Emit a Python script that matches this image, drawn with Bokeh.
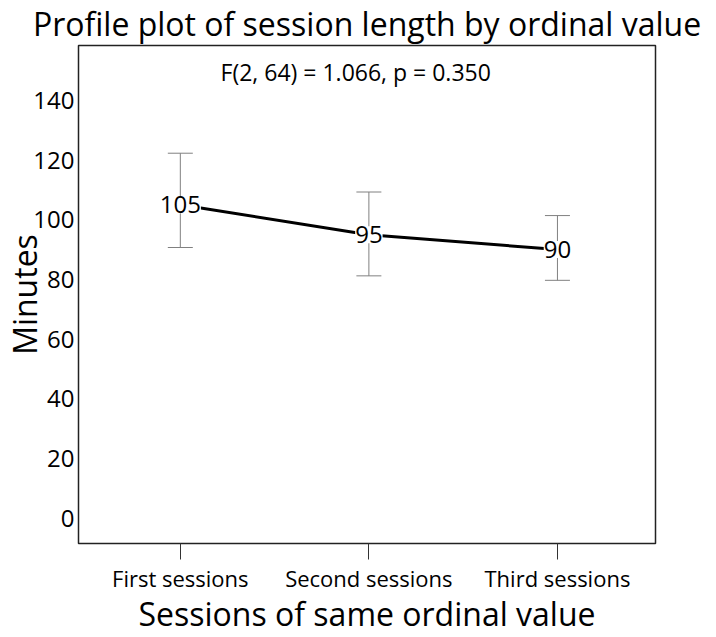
from bokeh.plotting import figure
from bokeh.models import (ColumnDataSource, Whisker, TeeHead, LabelSet, Label,
                          FixedTicker, Range1d)
from bokeh.core.properties import value
from bokeh.embed import file_html
from bokeh.resources import INLINE

# ---- data ----
categories = ["First sessions", "Second sessions", "Third sessions"]
means = [105, 95, 90]
lower = [90.7, 81.2, 79.7]
upper = [122.3, 109.3, 101.4]
mean_labels = ["105", "95", "90"]
y_ticks = [0, 20, 40, 60, 80, 100, 120, 140]
title_text = "Profile plot of session length by ordinal value"
stat_text = "F(2, 64) = 1.066, p = 0.350"
x_title = "Sessions of same ordinal value"
y_title = "Minutes"

FONT = "Open Sans"
x = list(range(len(categories)))
src = ColumnDataSource(dict(x=x, mean=means, lower=lower, upper=upper, label=mean_labels))

p = figure(width=716, height=637, output_backend="svg", toolbar_location=None,
           x_range=Range1d(-0.54, 2.52), y_range=Range1d(-8.5, 158.4),
           min_border_left=78, min_border_top=45, min_border_right=61,
           min_border_bottom=94)

p.title.text = title_text
p.title.text_font = FONT
p.title.text_font_size = "32px"
p.title.text_font_style = "normal"
p.title.align = "center"
p.title.text_color = "black"
p.title.standoff = -3
p.title.vertical_align = "top"
p.title.text_line_height = 1.0

p.xgrid.visible = False
p.ygrid.visible = False
p.outline_line_color = "#222222"
p.outline_line_width = 1.5
p.outline_line_alpha = 1.0

xa = p.xaxis[0]
xa.ticker = FixedTicker(ticks=x)
xa.major_label_overrides = {i: c for i, c in zip(x, categories)}
xa.axis_line_color = None
xa.major_tick_out = 16
xa.major_tick_in = 0
xa.minor_tick_line_color = None
xa.major_tick_line_color = "#333333"
xa.major_label_text_font = FONT
xa.major_label_text_font_size = "22px"
xa.major_label_text_color = "black"
xa.major_label_standoff = 3
xa.axis_label = x_title
xa.axis_label_text_font = FONT
xa.axis_label_text_font_size = "32px"
xa.axis_label_text_font_style = "normal"
xa.axis_label_text_color = "black"
xa.axis_label_text_line_height = 1.0
xa.axis_label_standoff = -4

ya = p.yaxis[0]
ya.ticker = FixedTicker(ticks=y_ticks)
ya.axis_line_color = None
ya.major_tick_out = 0
ya.major_tick_in = 0
ya.minor_tick_line_color = None
ya.major_label_text_font = FONT
ya.major_label_text_font_size = "24px"
ya.major_label_text_color = "black"
ya.major_label_standoff = 4
ya.axis_label = y_title
ya.axis_label_text_font = FONT
ya.axis_label_text_font_size = "32px"
ya.axis_label_text_font_style = "normal"
ya.axis_label_text_color = "black"
ya.axis_label_text_line_height = 1.0
ya.axis_label_standoff = -16

p.line("x", "mean", source=src, line_color="black", line_width=3)

wh = Whisker(base="x", upper="upper", lower="lower", source=src,
             line_color="#808080", line_width=1,
             upper_head=TeeHead(size=25, line_color="#808080", line_width=1),
             lower_head=TeeHead(size=25, line_color="#808080", line_width=1))
p.add_layout(wh)

labels = LabelSet(x="x", y="mean", text="label", source=src,
                  text_align="center", text_baseline="middle",
                  text_font=value(FONT), text_font_size="24px", text_color="black",
                  background_fill_color="white")
p.add_layout(labels)

stat = Label(x=0.93, y=149.4, text=stat_text, text_align="center",
             text_baseline="middle", text_font=FONT, text_font_size="23px",
             text_color="black")
p.add_layout(stat)

open("out.html", "w").write(file_html(p, INLINE))
